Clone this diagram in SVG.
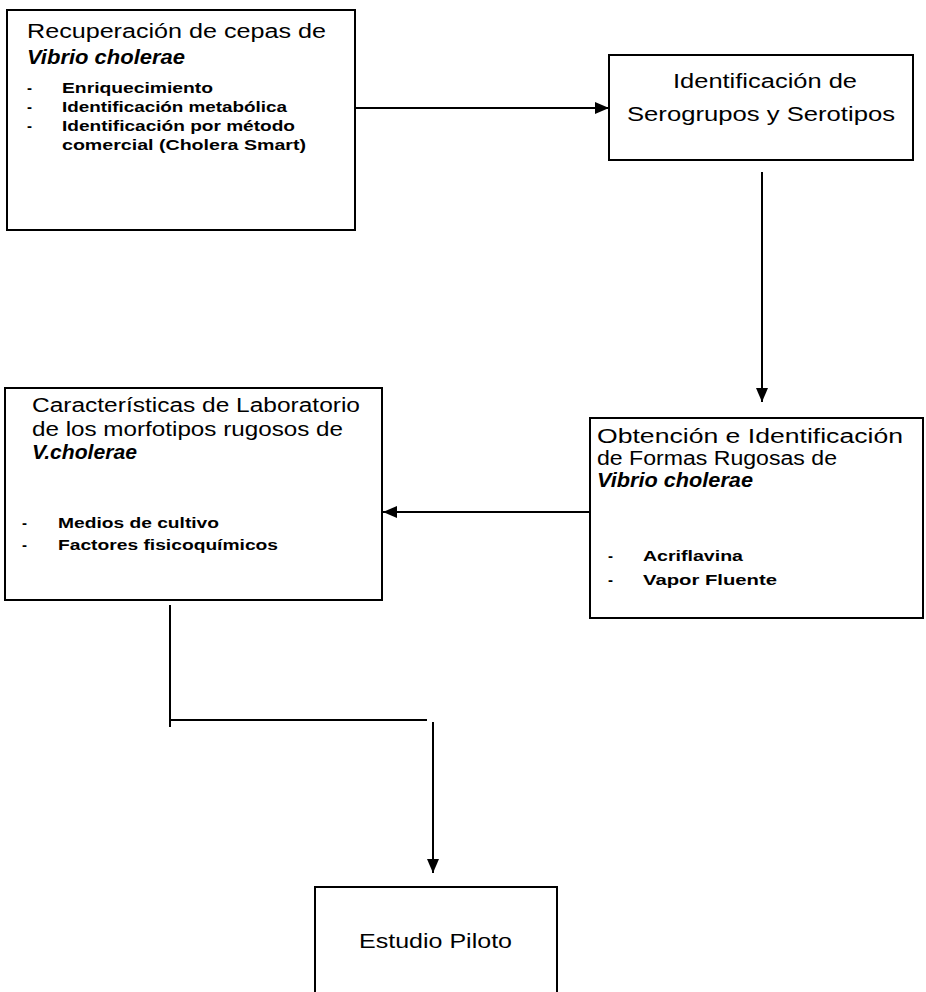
<svg xmlns="http://www.w3.org/2000/svg" width="926" height="992" viewBox="0 0 926 992">
<defs>
<marker id="ah" markerWidth="14" markerHeight="12" refX="14" refY="6" orient="auto" markerUnits="userSpaceOnUse">
<path d="M0,0 L14,6 L0,12 Z" fill="#000"/>
</marker>
<style>
.box{fill:#fff;stroke:#000;stroke-width:2}
text{font-family:"Liberation Sans",Arial,sans-serif;fill:#000}
.t{font-size:20px}
.v{font-size:20px;font-weight:bold;font-style:italic}
.i{font-size:15px;font-weight:bold}
.c{text-anchor:middle}
.ln{fill:none;stroke:#000;stroke-width:2}
</style>
</defs>
<rect width="926" height="992" fill="#fff"/>
<g id="connectors">
<path class="ln" d="M355,108 H609" marker-end="url(#ah)"/>
<path class="ln" d="M762,172 V402" marker-end="url(#ah)"/>
<path class="ln" d="M590,512 H383" marker-end="url(#ah)"/>
<path class="ln" d="M170,605 V727 M170,720 H427"/>
<path class="ln" d="M433,722 V873" marker-end="url(#ah)"/>
</g>
<g id="n1">
<rect class="box" x="7" y="10" width="348" height="220"/>
<text class="t" x="27" y="38" textLength="299" lengthAdjust="spacingAndGlyphs">Recuperación de cepas de</text>
<text class="v" x="27" y="64" textLength="158" lengthAdjust="spacingAndGlyphs">Vibrio cholerae</text>
<text class="i" x="27" y="93">-</text>
<text class="i" x="62" y="93" textLength="151" lengthAdjust="spacingAndGlyphs">Enriquecimiento</text>
<text class="i" x="27" y="112">-</text>
<text class="i" x="62" y="112" textLength="225" lengthAdjust="spacingAndGlyphs">Identificación metabólica</text>
<text class="i" x="27" y="131">-</text>
<text class="i" x="62" y="131" textLength="233" lengthAdjust="spacingAndGlyphs">Identificación por método</text>
<text class="i" x="62" y="150" textLength="244" lengthAdjust="spacingAndGlyphs">comercial (Cholera Smart)</text>
</g>
<g id="n2">
<rect class="box" x="609" y="55" width="304" height="105"/>
<text class="t" x="673" y="88" textLength="184" lengthAdjust="spacingAndGlyphs">Identificación de</text>
<text class="t" x="627" y="121" textLength="268" lengthAdjust="spacingAndGlyphs">Serogrupos y Serotipos</text>
</g>
<g id="n3">
<rect class="box" x="590" y="418" width="333" height="200"/>
<text class="t" x="597" y="443" textLength="306" lengthAdjust="spacingAndGlyphs">Obtención e Identificación</text>
<text class="t" x="597" y="465" textLength="240" lengthAdjust="spacingAndGlyphs">de Formas Rugosas de</text>
<text class="v" x="597" y="487" textLength="156" lengthAdjust="spacingAndGlyphs">Vibrio cholerae</text>
<text class="i" x="608" y="561">-</text>
<text class="i" x="643" y="561" textLength="100" lengthAdjust="spacingAndGlyphs">Acriflavina</text>
<text class="i" x="608" y="585">-</text>
<text class="i" x="643" y="585" textLength="134" lengthAdjust="spacingAndGlyphs">Vapor Fluente</text>
</g>
<g id="n4">
<rect class="box" x="5" y="388" width="377" height="212"/>
<text class="t" x="32" y="412" textLength="328" lengthAdjust="spacingAndGlyphs">Características de Laboratorio</text>
<text class="t" x="32" y="436" textLength="311" lengthAdjust="spacingAndGlyphs">de los morfotipos rugosos de</text>
<text class="v" x="32" y="459" textLength="105" lengthAdjust="spacingAndGlyphs">V.cholerae</text>
<text class="i" x="22" y="528">-</text>
<text class="i" x="58" y="528" textLength="161" lengthAdjust="spacingAndGlyphs">Medios de cultivo</text>
<text class="i" x="22" y="550">-</text>
<text class="i" x="58" y="550" textLength="220" lengthAdjust="spacingAndGlyphs">Factores fisicoquímicos</text>
</g>
<g id="n5">
<rect class="box" x="315" y="887" width="242" height="120"/>
<text class="t" x="359" y="948" textLength="153" lengthAdjust="spacingAndGlyphs">Estudio Piloto</text>
</g>
</svg>
